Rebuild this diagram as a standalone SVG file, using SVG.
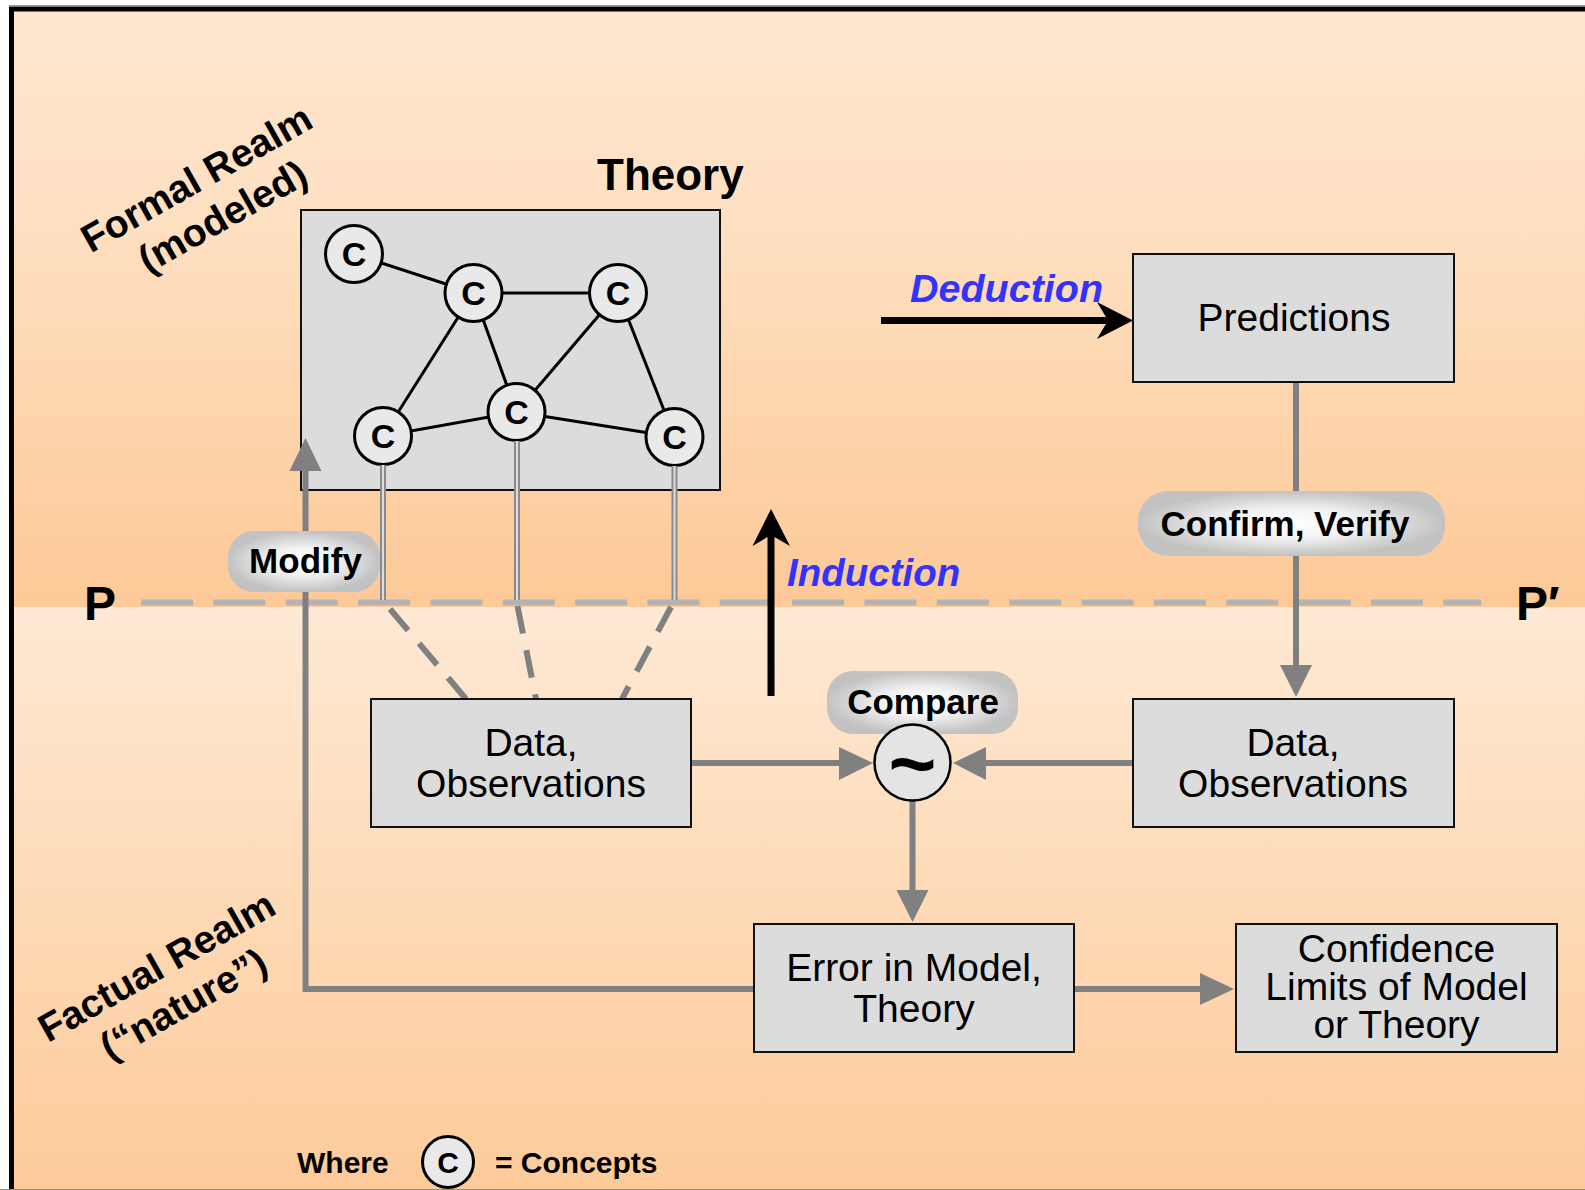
<svg xmlns="http://www.w3.org/2000/svg" width="1585" height="1190" viewBox="0 0 1585 1190">
<defs>
<linearGradient id="topGrad" x1="0" y1="0" x2="0" y2="1">
<stop offset="0" stop-color="#fee7d0"/>
<stop offset="0.35" stop-color="#fee0c2"/>
<stop offset="1" stop-color="#fdc997"/>
</linearGradient>
<linearGradient id="botGrad" x1="0" y1="0" x2="0" y2="1">
<stop offset="0" stop-color="#fee9d4"/>
<stop offset="1" stop-color="#fdca98"/>
</linearGradient>
<radialGradient id="lblGrad" cx="0.5" cy="0.5" r="0.5">
<stop offset="0" stop-color="#ffffff"/>
<stop offset="0.45" stop-color="#f2f2f2"/>
<stop offset="1" stop-color="#c2c2c2"/>
</radialGradient>
</defs>
<style>
text { font-family: "Liberation Sans", Arial, Helvetica, sans-serif; fill: #000; }
.b { font-weight: bold; }
.box { fill: #dcdcdc; stroke: #111; stroke-width: 2; }
.boxtxt { font-size: 39px; text-anchor: middle; }
.concept { fill: #e9e9e9; stroke: #000; stroke-width: 3; }
.ctxt { font-size: 34px; font-weight: bold; text-anchor: middle; }
.edge { stroke: #000; stroke-width: 3; }
.dbl-o { stroke: #8a8a8a; stroke-width: 6; }
.dbl-i { stroke: #dedede; stroke-width: 2; }
.gline { stroke: #808080; stroke-width: 6; fill: none; }
.ghead { fill: #808080; }
.gdash { stroke: #808080; stroke-width: 6; stroke-dasharray: 28 17; fill: none; }
.lbl { fill: url(#lblGrad); }
.lbltxt { font-size: 35px; font-weight: bold; text-anchor: middle; }
.blue { fill: #3333ff; font-weight: bold; font-style: italic; }
.realm { font-size: 39px; font-weight: bold; text-anchor: middle; }
</style>

<!-- background -->
<rect x="0" y="0" width="1585" height="1190" fill="#ffffff"/>
<rect x="12" y="9" width="1600" height="598" fill="url(#topGrad)"/>
<rect x="12" y="607" width="1600" height="600" fill="url(#botGrad)"/>
<line x1="9" y1="5.5" x2="1585" y2="5.5" stroke="#9a9a9a" stroke-width="1"/>
<path d="M11.5 1195 V9 H1600" fill="none" stroke="#000" stroke-width="5"/>
<line x1="0" y1="1189.5" x2="1585" y2="1189.5" stroke="#9a8a7a" stroke-width="1"/>

<!-- P - P' divider -->
<g id="divider">
<line x1="141" y1="602.5" x2="1481" y2="602.5" stroke="#b3b3b3" stroke-width="6" stroke-dasharray="52 20.35"/>
<text x="84" y="620" class="b" font-size="48">P</text>
<text x="1516" y="620" class="b" font-size="48">P′</text>
</g>

<!-- realm labels -->
<g id="formal-realm">
<text class="realm" transform="translate(203,190) rotate(-29.5)"><tspan x="0" y="0">Formal Realm</tspan><tspan x="4" y="46">(modeled)</tspan></text>
</g>
<g id="factual-realm">
<text class="realm" transform="translate(163,978) rotate(-29.5)"><tspan x="0" y="0">Factual Realm</tspan><tspan x="5" y="46">(“nature”)</tspan></text>
</g>

<!-- theory -->
<g id="theory">
<text x="597" y="190" class="b" font-size="44">Theory</text>
<rect class="box" x="301" y="210" width="419" height="280"/>
<g id="concept-links">
<line class="edge" x1="354" y1="254" x2="473.5" y2="293"/>
<line class="edge" x1="473.5" y1="293" x2="618" y2="293"/>
<line class="edge" x1="473.5" y1="293" x2="383" y2="436"/>
<line class="edge" x1="473.5" y1="293" x2="516.5" y2="412"/>
<line class="edge" x1="618" y1="293" x2="516.5" y2="412"/>
<line class="edge" x1="618" y1="293" x2="674.5" y2="437"/>
<line class="edge" x1="383" y1="436" x2="516.5" y2="412"/>
<line class="edge" x1="516.5" y1="412" x2="674.5" y2="437"/>
</g>
<g id="c1"><circle class="concept" cx="354" cy="254" r="28.5"/><text class="ctxt" x="354" y="266">C</text></g>
<g id="c2"><circle class="concept" cx="473.5" cy="293" r="28.5"/><text class="ctxt" x="473.5" y="305">C</text></g>
<g id="c3"><circle class="concept" cx="618" cy="293" r="28.5"/><text class="ctxt" x="618" y="305">C</text></g>
<g id="c4"><circle class="concept" cx="383" cy="436" r="28.5"/><text class="ctxt" x="383" y="448">C</text></g>
<g id="c5"><circle class="concept" cx="516.5" cy="412" r="28.5"/><text class="ctxt" x="516.5" y="424">C</text></g>
<g id="c6"><circle class="concept" cx="674.5" cy="437" r="28.5"/><text class="ctxt" x="674.5" y="449">C</text></g>
</g>

<!-- connectors -->
<g id="connectors">
<!-- concept links down to the divider -->
<line class="dbl-o" x1="383" y1="465" x2="383" y2="600"/>
<line class="dbl-i" x1="383" y1="465" x2="383" y2="600"/>
<line class="dbl-o" x1="517" y1="441" x2="517" y2="600"/>
<line class="dbl-i" x1="517" y1="441" x2="517" y2="600"/>
<line class="dbl-o" x1="674.5" y1="466" x2="674.5" y2="600"/>
<line class="dbl-i" x1="674.5" y1="466" x2="674.5" y2="600"/>
<!-- dashed links to data -->
<line class="gdash" x1="390" y1="609" x2="466" y2="699"/>
<line class="gdash" x1="517.5" y1="606" x2="536" y2="699"/>
<line class="gdash" x1="671" y1="607" x2="622" y2="699"/>
<!-- modify loop -->
<polyline class="gline" points="754,989 305.5,989 305.5,468"/>
<polygon class="ghead" points="305.5,438 289.5,471 321.5,471"/>
<!-- predictions to data -->
<line class="gline" x1="1296" y1="382" x2="1296" y2="668"/>
<polygon class="ghead" points="1296,697 1280,665 1312,665"/>
<!-- data to compare -->
<line class="gline" x1="691" y1="763" x2="842" y2="763"/>
<polygon class="ghead" points="873,763 839,747 839,780"/>
<line class="gline" x1="1133" y1="763" x2="983" y2="763"/>
<polygon class="ghead" points="953,763 986,747 986,780"/>
<!-- compare to error -->
<line class="gline" x1="912.5" y1="800" x2="912.5" y2="893"/>
<polygon class="ghead" points="912.5,922 896.5,890 928.5,890"/>
<!-- error to confidence -->
<line class="gline" x1="1074" y1="989" x2="1203" y2="989"/>
<polygon class="ghead" points="1234,989 1200,973 1200,1005"/>
<!-- deduction arrow -->
<line x1="881" y1="320.5" x2="1110" y2="320.5" stroke="#000" stroke-width="7"/>
<polygon points="1133,320.5 1097,302 1108,320.5 1097,339" fill="#000"/>
<!-- induction arrow -->
<line x1="771" y1="696" x2="771" y2="535" stroke="#000" stroke-width="7"/>
<polygon points="771,509 752.5,546 771,535 790,546" fill="#000"/>
</g>

<!-- labels on connectors -->
<g id="modify">
<rect class="lbl" x="228" y="531" width="152" height="61" rx="26"/>
<text class="lbltxt" x="305.5" y="573">Modify</text>
</g>
<g id="confirm">
<rect class="lbl" x="1138" y="491" width="307" height="65" rx="30"/>
<text class="lbltxt" x="1285" y="536">Confirm, Verify</text>
</g>
<g id="deduction-label">
<text class="blue" x="910" y="302" font-size="39.5">Deduction</text>
</g>
<g id="induction-label">
<text class="blue" x="787" y="586" font-size="38.5">Induction</text>
</g>

<!-- predictions -->
<g id="predictions">
<rect class="box" x="1133" y="254" width="321" height="128"/>
<text class="boxtxt" x="1294" y="331">Predictions</text>
</g>

<!-- data boxes -->
<g id="data-left">
<rect class="box" x="371" y="699" width="320" height="128"/>
<text class="boxtxt" x="531" y="756">Data,</text>
<text class="boxtxt" x="531" y="797">Observations</text>
</g>
<g id="data-right">
<rect class="box" x="1133" y="699" width="321" height="128"/>
<text class="boxtxt" x="1293" y="756">Data,</text>
<text class="boxtxt" x="1293" y="797">Observations</text>
</g>

<!-- compare -->
<g id="compare">
<rect class="lbl" x="827" y="671" width="191" height="63" rx="26"/>
<text class="lbltxt" x="923" y="714">Compare</text>
<circle cx="912.5" cy="762.5" r="38" fill="#e4e4e4" stroke="#000" stroke-width="2.5"/>
<text x="912.5" y="792" font-size="82" font-weight="bold" text-anchor="middle">~</text>
</g>

<!-- error -->
<g id="error">
<rect class="box" x="754" y="924" width="320" height="128"/>
<text class="boxtxt" x="914" y="981">Error in Model,</text>
<text class="boxtxt" x="914" y="1022">Theory</text>
</g>

<!-- confidence -->
<g id="confidence">
<rect class="box" x="1236" y="924" width="321" height="128"/>
<text class="boxtxt" x="1396.5" y="962">Confidence</text>
<text class="boxtxt" x="1396.5" y="1000">Limits of Model</text>
<text class="boxtxt" x="1396.5" y="1038">or Theory</text>
</g>

<!-- legend -->
<g id="legend">
<text x="297" y="1173" class="b" font-size="30">Where</text>
<circle cx="448" cy="1162" r="25.5" fill="#e9e9e9" stroke="#000" stroke-width="3"/>
<text x="448" y="1173" class="b" font-size="30" text-anchor="middle">C</text>
<text x="495" y="1173" class="b" font-size="30">= Concepts</text>
</g>
</svg>
